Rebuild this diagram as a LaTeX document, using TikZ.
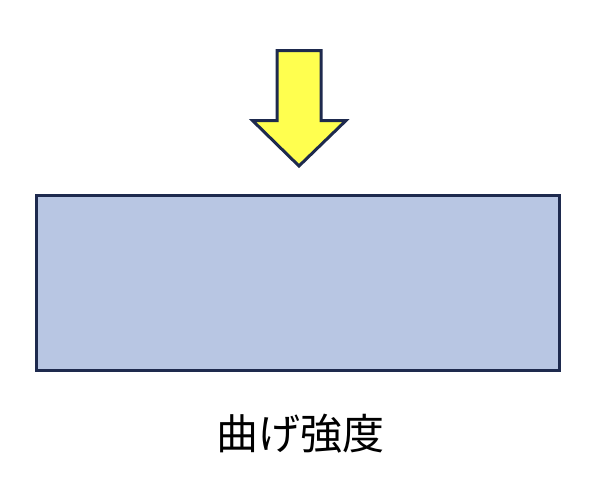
\documentclass[tikz,border=0pt]{standalone}
\usepackage{fontspec}
\newfontfamily\cjk{Noto Sans CJK JP}
\definecolor{edgeblue}{HTML}{1E2A4E}
\definecolor{boxfill}{HTML}{B8C6E3}
\definecolor{arrowyellow}{HTML}{FFFF4F}
\tikzset{
  outline/.style={draw=edgeblue, line width=3pt, line join=miter},
  beam/.style={outline, fill=boxfill},
  loadarrow/.style={outline, fill=arrowyellow},
  caption/.style={font=\cjk\fontsize{42}{42}\selectfont, inner sep=0pt}
}
\begin{document}
\begin{tikzpicture}[x=1pt,y=-1pt]
\useasboundingbox (0,0) rectangle (600,501);
\draw[loadarrow] (277,50.5) -- (321,50.5) -- (321,120.5) -- (346,120.5) -- (299,166) -- (252.5,120.5) -- (277,120.5) -- cycle;
\node[beam, minimum width=522.5pt, minimum height=175pt, inner sep=0pt, outer sep=0pt, anchor=north west] (plate) at (36.5,195) {};
\node[caption] (label) at (300,434) {曲げ強度};
\end{tikzpicture}
\end{document}
